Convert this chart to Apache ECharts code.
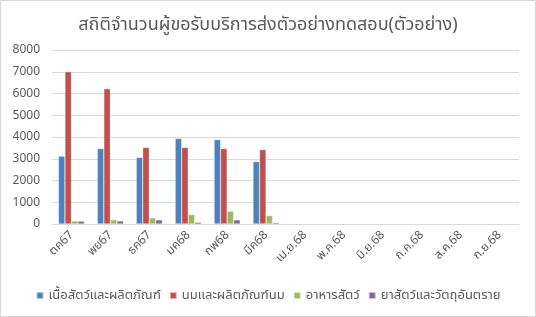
<!DOCTYPE html>
<html><head><meta charset="utf-8">
<script src="https://cdn.jsdelivr.net/npm/echarts@6/dist/echarts.min.js"></script>
<style>html,body{margin:0;padding:0;background:#fff}#c{width:536px;height:317px}</style>
</head><body><div id="c"></div>
<script>
const titleText = 'สถิติจำนวนผู้ขอรับบริการส่งตัวอย่างทดสอบ(ตัวอย่าง)';
const categories = ['ตค67','พย67','ธค67','มค68','กพ68','มีค68','เม.ย.68','พ.ค.68','มิ.ย.68','ก.ค.68','ส.ค.68','ก.ย.68'];
const seriesNames = ['เนื้อสัตว์และผลิตภัณฑ์','นมและผลิตภัณฑ์นม','อาหารสัตว์','ยาสัตว์และวัตถุอันตราย'];
const meat = [3120, 3470, 3060, 3930, 3880, 2870, null, null, null, null, null, null];
const milk = [7000, 6220, 3520, 3520, 3470, 3420, null, null, null, null, null, null];
const feed = [140, 190, 280, 430, 590, 390, null, null, null, null, null, null];
const drug = [130, 140, 190, 80, 190, 60, null, null, null, null, null, null];
const colors = ['#4F81BD','#C0504D','#9BBB59','#8064A2'];
const fontFam = '"Noto Sans", "Noto Sans Thai", Tahoma, sans-serif';

const chart = echarts.init(document.getElementById('c'));
const values = [meat, milk, feed, drug];
chart.setOption({
  animation: false,
  color: colors,
  textStyle: {fontFamily: fontFam},
  title: {text: titleText, left: 'center', top: 11,
    textStyle: {fontSize: 18, fontWeight: 'normal', color: '#595959', fontFamily: fontFam}},
  graphic: [{type: 'rect', shape: {x: 0.5, y: 0.5, width: 535, height: 316},
    style: {fill: 'none', stroke: '#d9d9d9', lineWidth: 1}, silent: true}],
  legend: {bottom: 10, left: 'center', itemWidth: 7, itemHeight: 7, itemGap: 8,
    icon: 'rect', textStyle: {fontSize: 13, color: '#595959', fontFamily: fontFam},
    data: seriesNames},
  grid: {left: 52, right: 17, top: 50, bottom: 93, containLabel: false},
  xAxis: {type: 'category', data: categories,
    axisLine: {lineStyle: {color: '#d9d9d9'}}, axisTick: {show: false},
    axisLabel: {rotate: 45, fontSize: 12, color: '#595959', margin: 9, interval: 0, fontFamily: fontFam}},
  yAxis: {type: 'value', min: 0, max: 8000, interval: 1000,
    axisLine: {show: false}, axisTick: {show: false},
    axisLabel: {fontSize: 12, color: '#595959', margin: 12, fontFamily: fontFam,
      formatter: v => String(v)},
    splitLine: {lineStyle: {color: '#d9d9d9'}}},
  series: values.map((v, i) => ({
    name: seriesNames[i], type: 'bar', data: v,
    barGap: '0%', barCategoryGap: '33%',
    itemStyle: {color: colors[i], borderColor: 'rgba(255,255,255,0.6)', borderWidth: 0.5}
  }))
});
</script></body></html>
